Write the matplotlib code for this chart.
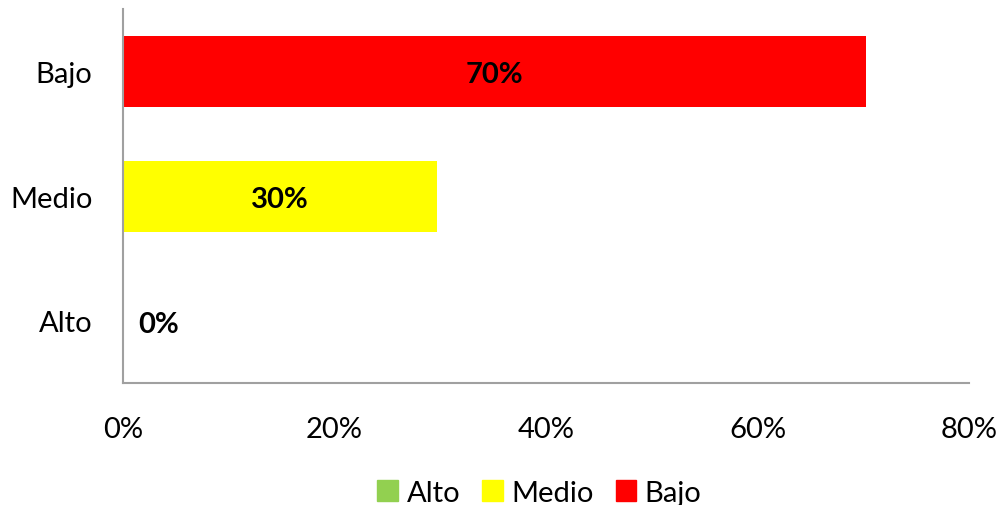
import matplotlib.pyplot as plt
from matplotlib.patches import Patch

categories = ['Alto', 'Medio', 'Bajo']
values = [0.0, 0.2973, 0.7027]
colors = ['#92D050', '#FFFF00', '#FF0000']
labels = ['0%', '30%', '70%']
xticks = [0.0, 0.2, 0.4, 0.6, 0.8]
xticklabels = ['0%', '20%', '40%', '60%', '80%']

plt.rcParams['font.family'] = ['Lato', 'DejaVu Sans']
fs = 21

fig = plt.figure(figsize=(9.99, 5.06), dpi=100)
ax = fig.add_axes([0.1231, 0.241, 0.8469, 0.739])

ypos = range(len(categories))
ax.barh(ypos, values, height=0.57, color=colors)

for y, v, lab in zip(ypos, values, labels):
    if v > 0:
        ax.annotate(lab, (v / 2, y), xytext=(0, -2), textcoords='offset points',
                    ha='center', va='center', fontsize=fs, fontweight='bold')
    else:
        ax.annotate(lab, (0, y), xytext=(11, -2), textcoords='offset points',
                    ha='left', va='center', fontsize=fs, fontweight='bold')

ax.set_xlim(0, 0.8)
ax.set_ylim(-0.5, 2.5)
ax.set_yticks(list(ypos))
ax.set_yticklabels(categories, fontsize=fs)
ax.set_xticks(xticks)
ax.set_xticklabels(xticklabels, fontsize=fs)
ax.tick_params(length=0)
ax.tick_params(axis='x', pad=24)
ax.tick_params(axis='y', pad=22)

for s in ['top', 'right']:
    ax.spines[s].set_visible(False)
for s in ['left', 'bottom']:
    ax.spines[s].set_color('#A0A0A0')
    ax.spines[s].set_linewidth(1.5)

handles = [Patch(color=c, label=n) for c, n in zip(colors, categories)]
fig.legend(handles=handles, loc='center', bbox_to_anchor=(0.54, 0.024), ncol=3,
           frameon=False, fontsize=fs, handlelength=0.7, handleheight=0.7,
           handletextpad=0.3, columnspacing=0.75)

fig.savefig('out.png', dpi=100)
